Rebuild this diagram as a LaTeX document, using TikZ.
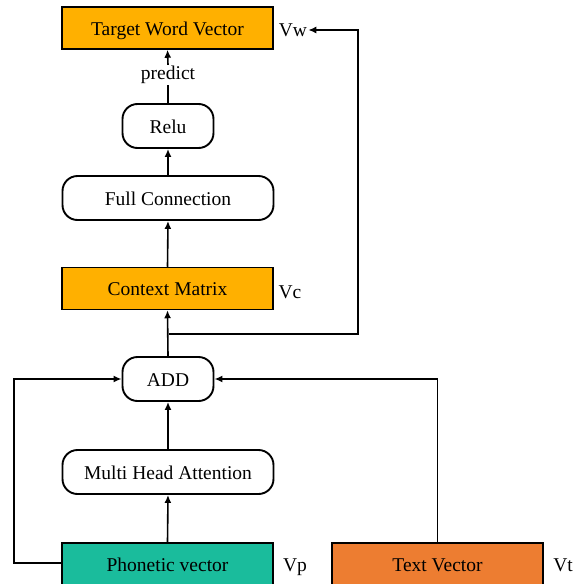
\documentclass[tikz,border=0pt]{standalone}
\usepackage{fontspec}
\setmainfont{Liberation Serif}
\usetikzlibrary{arrows.meta}
\definecolor{amber}{HTML}{FFB000}
\definecolor{teal}{HTML}{1ABC9C}
\definecolor{carrot}{HTML}{ED7D31}
\begin{document}
\begin{tikzpicture}[x=1pt,y=-1pt,>={Latex[length=8pt,width=7pt]},font=\fontsize{19.5}{23}\selectfont]
	\tikzstyle{vecbox} = [rectangle,draw=black,line width=1.5pt,minimum width=211pt,minimum height=42pt,inner sep=0pt,text height=14pt,text depth=0pt]
	\tikzstyle{opbox} = [rectangle,rounded corners=15pt,draw=black,line width=1.9pt,fill=white,minimum height=44pt,inner sep=0pt,text height=14pt,text depth=0pt]
	\tikzstyle{tag} = [inner sep=1pt]
	\tikzstyle{link} = [line width=1.6pt]
	\useasboundingbox (0,0) rectangle (583,584);
	% top part
	\node[vecbox,fill=amber] (target) at (167.5,28) {Target Word Vector};
	\node[tag] (vw) at (293,30) {Vw};
	\node[tag] (predict) at (168,75) {predict};
	\node[opbox,minimum width=91pt] (relu) at (168,126) {Relu};
	\node[opbox,minimum width=211pt] (full) at (168,198) {Full Connection};
	\node[vecbox,fill=amber] (context) at (167.5,288.5) {Context Matrix};
	\node[tag] (vc) at (290,292) {Vc};
	% bottom part
	\node[opbox,minimum width=91pt] (add) at (168,379) {ADD};
	\node[opbox,minimum width=211pt] (mha) at (168,472) {Multi Head Attention};
	\node[vecbox,fill=teal] (phon) at (167.5,564) {Phonetic vector};
	\node[tag] (vp) at (295,567) {Vp};
	\node[vecbox,fill=carrot] (text) at (437.5,564) {Text Vector};
	\node[tag] (vt) at (563,565) {Vt};
	% connections
	\draw[link] (relu.north) -- (predict.south);
	\draw[link,->] (predict.north) -- (target.south);
	\draw[link,->] (full.north) -- (relu.south);
	\draw[link,->] (context.north) -- (full.south);
	\draw[link,->] (add.north) -- (context.south);
	\draw[link,->] (mha.north) -- (add.south);
	\draw[link,->] (phon.north) -- (mha.south);
	% side paths
	\coordinate (split) at (169,334);
	\coordinate (turn) at (358,334);
	\draw[link,->] (split) -- (turn) |- (vw.east);
	\coordinate (leftbend) at (14,563);
	\draw[link,->] (phon.west |- leftbend) -- (leftbend) |- (add.west);
	\draw[link,->] (text.north) |- (add.east);
\end{tikzpicture}
\end{document}
